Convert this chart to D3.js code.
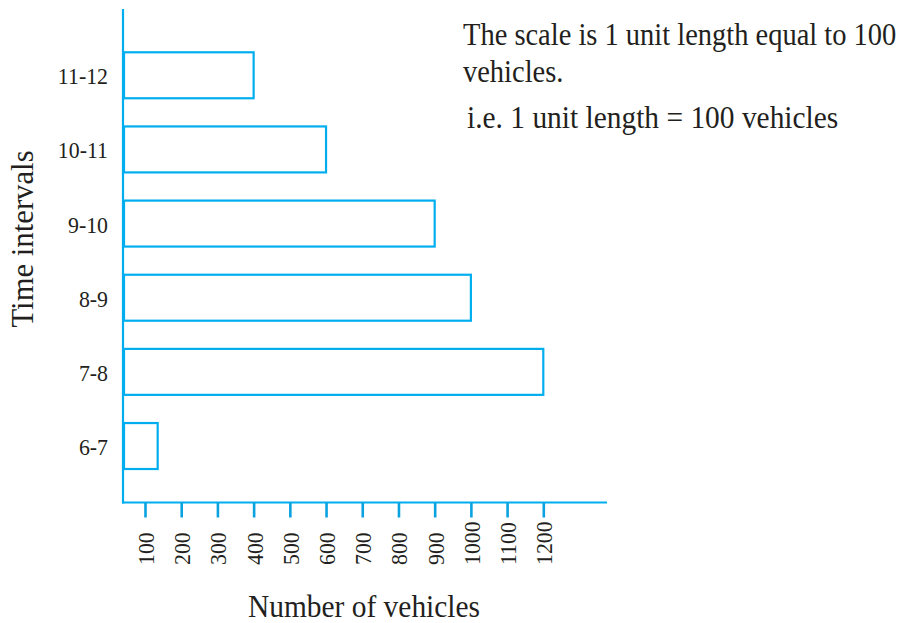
<!DOCTYPE html>
<html>
<head>
<meta charset="utf-8">
<script src="https://cdn.jsdelivr.net/npm/d3@7"></script>
<style>
  html, body { margin: 0; padding: 0; background: #fff; }
  svg { display: block; }
  text { font-family: "Liberation Serif", "Times New Roman", serif; fill: #231f20; }
</style>
</head>
<body>
<svg id="chart" width="902" height="623"></svg>
<script>
// Vehicles passing a crossing, by hour interval (top to bottom)
const timeIntervals = ["11-12", "10-11", "9-10", "8-9", "7-8", "6-7"];
const vehicleCounts = [400, 600, 900, 1000, 1200, 135];
const tickValues = [100, 200, 300, 400, 500, 600, 700, 800, 900, 1000, 1100, 1200];
const noteLines = [
  "The scale is 1 unit length equal to 100",
  "vehicles.",
  "i.e. 1 unit length = 100 vehicles"
];

const blue = "#00aeef";
const svg = d3.select("#chart");

const axisX = 123;    // vertical axis position
const axisY = 502.5;  // horizontal axis position
const squeeze = 0.91; // narrow, textbook-style lettering

const x = d3.scaleLinear().domain([100, 1200]).range([145, 543.3]);
const y = d3.scaleBand()
  .domain(timeIntervals)
  .range([38.2, 483.1])
  .paddingInner(0.38)
  .paddingOuter(0.19);

// bars
svg.append("g")
  .selectAll("rect")
  .data(timeIntervals)
  .join("rect")
  .attr("x", axisX + 1)
  .attr("y", d => y(d))
  .attr("width", (d, i) => x(vehicleCounts[i]) - axisX - 1)
  .attr("height", y.bandwidth())
  .attr("fill", "none")
  .attr("stroke", blue)
  .attr("stroke-width", 2.2);

// axis lines
svg.append("line")
  .attr("x1", axisX).attr("x2", axisX)
  .attr("y1", 9).attr("y2", axisY + 1)
  .attr("stroke", blue).attr("stroke-width", 2.2);
svg.append("line")
  .attr("x1", axisX - 1).attr("x2", 607)
  .attr("y1", axisY).attr("y2", axisY)
  .attr("stroke", blue).attr("stroke-width", 2.2);

// bottom axis ticks and rotated labels
const gx = svg.append("g")
  .attr("transform", `translate(0,${axisY})`)
  .call(d3.axisBottom(x).tickValues(tickValues).tickSize(15).tickFormat(d => d));
gx.select(".domain").remove();
gx.selectAll(".tick line").attr("stroke", "#0aa3df").attr("stroke-width", 2.6);
gx.selectAll(".tick text")
  .attr("x", 0).attr("y", 0).attr("dy", "0.35em")
  .attr("text-anchor", "start")
  .attr("transform", `translate(0,62.5) rotate(-90) scale(${squeeze},1)`)
  .style("font-size", "24px")
  .attr("fill", "#231f20");

// left axis category labels
const gy = svg.append("g")
  .attr("transform", `translate(${axisX},0)`)
  .call(d3.axisLeft(y).tickSize(0).tickPadding(0));
gy.select(".domain").remove();
gy.selectAll(".tick text")
  .attr("x", 0).attr("dy", 9)
  .attr("text-anchor", "end")
  .attr("transform", `translate(-15,0) scale(${squeeze},1)`)
  .style("font-size", "24px")
  .attr("fill", "#231f20");

// axis titles
svg.append("text")
  .attr("transform", "translate(33,239) rotate(-90) scale(0.96,1)")
  .attr("text-anchor", "middle")
  .style("font-size", "32px")
  .text("Time intervals");
svg.append("text")
  .attr("transform", "translate(364,617) scale(0.92,1)")
  .attr("text-anchor", "middle")
  .style("font-size", "32px")
  .text("Number of vehicles");

// scale note
const notePos = [[463, 45, 0.89], [463, 81.5, 0.89], [467, 128, 0.92]];
svg.append("g")
  .selectAll("text")
  .data(noteLines)
  .join("text")
  .attr("transform", (d, i) => `translate(${notePos[i][0]},${notePos[i][1]}) scale(${notePos[i][2]},1)`)
  .style("font-size", "32px")
  .text(d => d);
</script>
</body>
</html>
